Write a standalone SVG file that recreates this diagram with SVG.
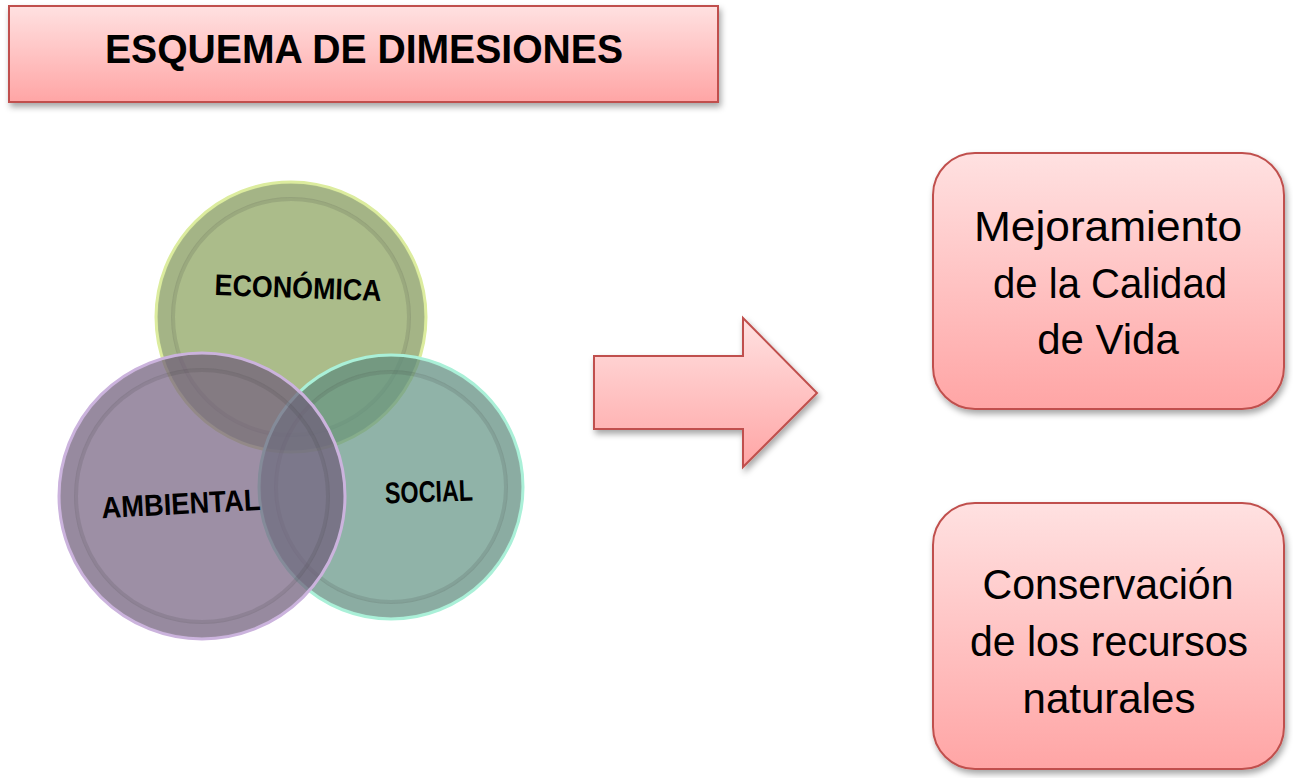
<svg xmlns="http://www.w3.org/2000/svg" width="1293" height="778" viewBox="0 0 1293 778">
<style>
.box{stroke:#c0504d;stroke-width:2;fill:url(#redGrad);filter:url(#shadow)}
.big{font-family:"Liberation Sans",Arial,sans-serif;font-size:42px;fill:#000;text-anchor:middle}
.lbl{font-family:"Liberation Sans",Arial,sans-serif;font-weight:bold;fill:#000;text-anchor:middle}
.rimDark{fill:none;stroke:#3c3c3c;stroke-opacity:0.15;stroke-width:4}
.rimBand{fill:none;stroke:#555;stroke-opacity:0.07;stroke-width:14}
</style>
<defs>
<linearGradient id="redGrad" x1="0" y1="0" x2="0" y2="1">
<stop offset="0" stop-color="#ffe1e1"/>
<stop offset="1" stop-color="#ffa5a5"/>
</linearGradient>
<filter id="shadow" x="-10%" y="-10%" width="125%" height="130%">
<feDropShadow dx="2" dy="4" stdDeviation="3" flood-color="#000" flood-opacity="0.35"/>
</filter>
</defs>
<g id="title">
<rect class="box" x="9" y="6" width="709" height="96"/>
<text class="lbl" x="364" y="63" font-size="41" textLength="518" lengthAdjust="spacingAndGlyphs">ESQUEMA DE DIMESIONES</text>
</g>
<g id="economica">
<circle cx="291" cy="317" r="135" fill="#87a058" fill-opacity="0.7" stroke="#dcec9e" stroke-width="3"/>
<circle class="rimBand" cx="291" cy="317" r="126"/>
<circle class="rimDark" cx="291" cy="317" r="118"/>
<text class="lbl" x="298" y="298" font-size="30" textLength="167" lengthAdjust="spacingAndGlyphs" transform="rotate(2 298 290)">ECONÓMICA</text>
</g>
<g id="social">
<circle cx="391" cy="487" r="132" fill="#619383" fill-opacity="0.7" stroke="#aaf0d8" stroke-width="3"/>
<circle class="rimBand" cx="391" cy="487" r="123"/>
<circle class="rimDark" cx="391" cy="487" r="115"/>
<text class="lbl" x="429" y="502" font-size="30" textLength="88" lengthAdjust="spacingAndGlyphs" transform="rotate(-2 429 494)">SOCIAL</text>
</g>
<g id="ambiental">
<circle cx="202" cy="496" r="143" fill="#735f7f" fill-opacity="0.7" stroke="#cbb3dd" stroke-width="3"/>
<circle class="rimBand" cx="202" cy="496" r="134"/>
<circle class="rimDark" cx="202" cy="496" r="126"/>
<text class="lbl" x="181" y="514" font-size="30" textLength="159" lengthAdjust="spacingAndGlyphs" transform="rotate(-3 181 505)">AMBIENTAL</text>
</g>
<g id="connectors">
<path class="box" d="M594 356 H743 V318 L817 393 L743 467 V429 H594 Z"/>
</g>
<g id="calidad">
<rect class="box" x="933" y="153" width="351" height="256" rx="42" ry="42"/>
<text class="big" x="1108" y="241" textLength="268" lengthAdjust="spacingAndGlyphs">Mejoramiento</text>
<text class="big" x="1110" y="298" textLength="234" lengthAdjust="spacingAndGlyphs">de la Calidad</text>
<text class="big" x="1108" y="354">de Vida</text>
</g>
<g id="conservacion">
<rect class="box" x="933" y="503" width="351" height="266" rx="42" ry="42"/>
<text class="big" x="1108" y="599" textLength="251" lengthAdjust="spacingAndGlyphs">Conservación</text>
<text class="big" x="1109" y="656" textLength="278" lengthAdjust="spacingAndGlyphs">de los recursos</text>
<text class="big" x="1109" y="713">naturales</text>
</g>
</svg>
